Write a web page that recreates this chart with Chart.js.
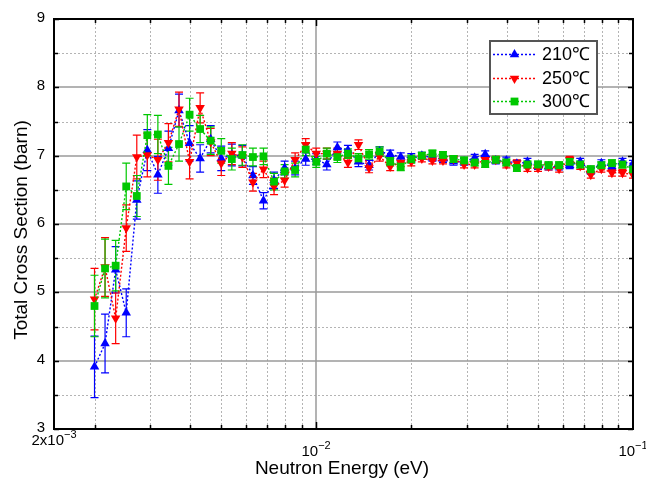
<!DOCTYPE html>
<html>
<head>
<meta charset="utf-8">
<script src="https://cdn.jsdelivr.net/npm/chart.js@4"></script>
<style>
  html, body { margin: 0; padding: 0; background: #fff; }
  #wrap { width: 646px; height: 485px; position: relative; }
</style>
</head>
<body>
<div id="wrap"><canvas id="chart" width="646" height="485"></canvas></div>
<script>
/* ── Data ──────────────────────────────────────────────── */

// neutron energy (eV), shared by all three temperatures
const energy = [
  0.002000, 0.002159, 0.002332, 0.002518, 0.002719, 0.002935, 0.003169, 0.003422,
  0.003695, 0.003990, 0.004308, 0.004651, 0.005022, 0.005423, 0.005855, 0.006322,
  0.006826, 0.007370, 0.007958, 0.008590, 0.009275, 0.010015, 0.010813, 0.011675,
  0.012606, 0.013611, 0.014697, 0.015868, 0.017133, 0.018499, 0.019974, 0.021567,
  0.023287, 0.025143, 0.027148, 0.029313, 0.031650, 0.034174, 0.036898, 0.039840,
  0.043017, 0.046447, 0.050151, 0.054150, 0.058467, 0.063129, 0.068163, 0.073598,
  0.079466, 0.085802, 0.092644, 0.100000,
];

// total cross section (barn)
const xs210 = [
  3.91, 4.25, 5.33, 4.70, 6.35, 7.08, 6.72, 7.11, 7.66, 7.18, 6.96, 7.24, 6.96, 7.01,
  7.00, 6.71, 6.34, 6.64, 6.82, 6.82, 6.95, 6.95, 6.87, 7.12, 7.08, 6.91, 6.86, 7.06,
  7.02, 6.98, 6.97, 7.00, 6.97, 6.95, 6.91, 6.91, 6.97, 7.02, 6.93, 6.93, 6.88, 6.91,
  6.85, 6.84, 6.84, 6.86, 6.91, 6.78, 6.89, 6.84, 6.91, 6.88,
];
const xs250 = [
  4.90, 5.37, 4.62, 5.94, 6.98, 7.01, 6.94, 7.19, 7.68, 6.91, 7.70, 7.20, 6.89, 7.03,
  6.98, 6.61, 6.80, 6.55, 6.64, 6.94, 7.16, 7.03, 7.03, 7.03, 6.90, 7.16, 6.82, 6.99,
  6.84, 6.90, 6.91, 6.96, 6.93, 6.93, 6.95, 6.87, 6.87, 6.94, 6.94, 6.87, 6.89, 6.82,
  6.82, 6.84, 6.81, 6.94, 6.85, 6.72, 6.81, 6.75, 6.75, 6.72,
];
const xs300 = [
  4.80, 5.35, 5.39, 6.55, 6.41, 7.30, 7.31, 6.85, 7.17, 7.60, 7.39, 7.22, 7.07, 6.95,
  7.01, 6.98, 6.99, 6.62, 6.77, 6.79, 7.09, 6.91, 7.03, 6.98, 7.03, 6.96, 7.02, 7.06,
  6.91, 6.84, 6.95, 7.00, 7.03, 7.01, 6.95, 6.93, 6.90, 6.88, 6.94, 6.90, 6.82, 6.87,
  6.87, 6.86, 6.86, 6.91, 6.87, 6.80, 6.86, 6.89, 6.87, 6.80,
];

// one-sigma uncertainties (barn)
const err210 = [
  0.45, 0.43, 0.34, 0.35, 0.28, 0.30, 0.27, 0.25, 0.24, 0.26, 0.20, 0.20, 0.18, 0.16,
  0.15, 0.13, 0.12, 0.12, 0.10, 0.10, 0.09, 0.08, 0.08, 0.08, 0.07, 0.07, 0.07, 0.07,
  0.06, 0.06, 0.06, 0.05, 0.05, 0.05, 0.05, 0.05, 0.05, 0.05, 0.05, 0.05, 0.05, 0.05,
  0.05, 0.05, 0.05, 0.05, 0.05, 0.05, 0.05, 0.05, 0.05, 0.05,
];
const err250 = [
  0.45, 0.43, 0.37, 0.34, 0.32, 0.32, 0.30, 0.28, 0.25, 0.25, 0.22, 0.20, 0.18, 0.16,
  0.15, 0.13, 0.12, 0.12, 0.10, 0.10, 0.09, 0.08, 0.08, 0.08, 0.07, 0.07, 0.07, 0.07,
  0.06, 0.06, 0.06, 0.05, 0.05, 0.05, 0.05, 0.05, 0.05, 0.05, 0.05, 0.05, 0.05, 0.05,
  0.05, 0.05, 0.05, 0.05, 0.05, 0.05, 0.05, 0.05, 0.05, 0.05,
];
const err300 = [
  0.45, 0.43, 0.37, 0.34, 0.30, 0.30, 0.28, 0.27, 0.25, 0.24, 0.20, 0.20, 0.18, 0.16,
  0.15, 0.13, 0.12, 0.12, 0.10, 0.10, 0.09, 0.08, 0.08, 0.08, 0.07, 0.07, 0.07, 0.07,
  0.06, 0.06, 0.06, 0.05, 0.05, 0.05, 0.05, 0.05, 0.05, 0.05, 0.05, 0.05, 0.05, 0.05,
  0.05, 0.05, 0.05, 0.05, 0.05, 0.05, 0.05, 0.05, 0.05, 0.05,
];

const seriesLabels = ["210℃", "250℃", "300℃"];

// axes
const xMin = 0.00149;
const xMax = 0.1;
const yMin = 3;
const yMax = 9;
const xMajorTicks = [0.01];
const xMinorTicks = [
  0.002, 0.003, 0.004, 0.005, 0.006, 0.007, 0.008, 0.009,
  0.02, 0.03, 0.04, 0.05, 0.06, 0.07, 0.08, 0.09,
];
const yTicks = [3, 4, 5, 6, 7, 8, 9];
const yHalfTicks = [3.5, 4.5, 5.5, 6.5, 7.5, 8.5];
const xTickLabels = [
  { value: xMin, base: "2x10", exp: "−3" },
  { value: 0.01, base: "10", exp: "−2" },
  { value: 0.1, base: "10", exp: "−1" },
];

/* ── Styling ───────────────────────────────────────────── */

const BLUE = "#0000ff";
const RED = "#ff0000";
const GREEN = "#00c800";
const NUM_FONT = "'Liberation Sans', Arial, sans-serif";

function points(ys) {
  return energy.map((e, i) => ({ x: e, y: ys[i] }));
}

function makeSet(label, ys, errs, color, style, rotation, order) {
  return {
    label,
    data: points(ys),
    errors: errs,
    borderColor: color,
    backgroundColor: color,
    borderWidth: 1.4,
    borderDash: [2, 2],
    showLine: true,
    pointStyle: style,
    rotation,
    pointRadius: 5.5,
    pointBorderWidth: 0,
    pointBackgroundColor: color,
    clip: 0,
    order,
  };
}

/* ── Custom drawing: grid, error bars, frame, labels, legend ── */

const decor = {
  id: "decor",
  beforeDatasetsDraw(chart) {
    const { ctx, chartArea: a, scales: { x, y } } = chart;
    ctx.save();
    ctx.lineWidth = 1;

    // dotted minor grid
    ctx.strokeStyle = "#b4b4b4";
    ctx.setLineDash([2, 2]);
    for (const v of xMinorTicks) {
      const px = Math.round(x.getPixelForValue(v)) + 0.5;
      ctx.beginPath(); ctx.moveTo(px, a.top); ctx.lineTo(px, a.bottom); ctx.stroke();
    }
    for (const v of yHalfTicks) {
      const py = Math.round(y.getPixelForValue(v)) + 0.5;
      ctx.beginPath(); ctx.moveTo(a.left, py); ctx.lineTo(a.right, py); ctx.stroke();
    }

    // solid major grid
    ctx.setLineDash([]);
    ctx.strokeStyle = "#9a9a9a";
    ctx.lineWidth = 1.5;
    for (const v of xMajorTicks) {
      const px = Math.round(x.getPixelForValue(v));
      ctx.beginPath(); ctx.moveTo(px, a.top); ctx.lineTo(px, a.bottom); ctx.stroke();
    }
    for (const v of yTicks) {
      const py = Math.round(y.getPixelForValue(v));
      ctx.beginPath(); ctx.moveTo(a.left, py); ctx.lineTo(a.right, py); ctx.stroke();
    }

    // error bars
    ctx.beginPath();
    ctx.rect(a.left, a.top, a.right - a.left, a.bottom - a.top);
    ctx.clip();
    ctx.lineWidth = 1.2;
    chart.data.datasets.forEach((ds) => {
      ctx.strokeStyle = ds.borderColor;
      ds.data.forEach((p, i) => {
        const e = ds.errors[i];
        const px = x.getPixelForValue(p.x);
        const top = y.getPixelForValue(p.y + e);
        const bot = y.getPixelForValue(p.y - e);
        ctx.beginPath();
        ctx.moveTo(px, top); ctx.lineTo(px, bot);
        ctx.moveTo(px - 4, top); ctx.lineTo(px + 4, top);
        ctx.moveTo(px - 4, bot); ctx.lineTo(px + 4, bot);
        ctx.stroke();
      });
    });
    ctx.restore();
  },

  afterDraw(chart) {
    const { ctx, chartArea: a, scales: { x, y } } = chart;
    ctx.save();

    // frame
    ctx.strokeStyle = "#000";
    ctx.lineWidth = 2;
    ctx.strokeRect(a.left, a.top, a.right - a.left, a.bottom - a.top);

    // tick marks (inside, all four sides)
    ctx.lineWidth = 1.5;
    ctx.beginPath();
    for (const v of xMinorTicks.concat(xMajorTicks)) {
      const px = Math.round(x.getPixelForValue(v)) + 0.5;
      const len = xMajorTicks.includes(v) ? 7 : 4;
      ctx.moveTo(px, a.bottom); ctx.lineTo(px, a.bottom - len);
      ctx.moveTo(px, a.top); ctx.lineTo(px, a.top + len);
    }
    for (const v of yTicks.concat(yHalfTicks)) {
      const py = Math.round(y.getPixelForValue(v)) + 0.5;
      const len = yTicks.includes(v) ? 5 : 4;
      ctx.moveTo(a.left, py); ctx.lineTo(a.left + len, py);
      ctx.moveTo(a.right, py); ctx.lineTo(a.right - len, py);
    }
    ctx.stroke();

    // y tick labels
    ctx.fillStyle = "#000";
    ctx.font = `15px ${NUM_FONT}`;
    ctx.textAlign = "right";
    ctx.textBaseline = "middle";
    for (const v of yTicks) {
      ctx.fillText(String(v), a.left - 9, y.getPixelForValue(v) - 1);
    }

    // x tick labels with superscript exponents
    ctx.textBaseline = "alphabetic";
    ctx.textAlign = "left";
    xTickLabels.forEach((t, i) => {
      const px = x.getPixelForValue(t.value);
      ctx.font = `15px ${NUM_FONT}`;
      const wb = ctx.measureText(t.base).width;
      ctx.font = `11px ${NUM_FONT}`;
      const we = ctx.measureText(t.exp).width;
      const base = i === 0 ? 445 : 456;
      const x0 = px - (wb + we) / 2;
      ctx.font = `15px ${NUM_FONT}`;
      ctx.fillText(t.base, x0, base);
      ctx.font = `11px ${NUM_FONT}`;
      ctx.fillText(t.exp, x0 + wb, base - 7);
    });

    // axis titles
    ctx.font = `19px ${NUM_FONT}`;
    ctx.textAlign = "center";
    ctx.textBaseline = "middle";
    ctx.fillText("Neutron Energy (eV)", 342, 469);
    ctx.save();
    ctx.translate(22, 230);
    ctx.rotate(-Math.PI / 2);
    ctx.fillText("Total Cross Section (barn)", 0, 0);
    ctx.restore();

    // legend box
    const lx = 490, ly = 41, lw = 107, lh = 73;
    ctx.fillStyle = "#fff";
    ctx.fillRect(lx, ly, lw, lh);
    ctx.strokeStyle = "#555";
    ctx.lineWidth = 2;
    ctx.strokeRect(lx, ly, lw, lh);

    const rows = [54, 77.5, 100.5];
    chart.data.datasets.forEach((ds, i) => {
      const ry = Math.round(rows[i]) + 0.5;
      ctx.strokeStyle = ds.borderColor;
      ctx.lineWidth = 1.4;
      ctx.setLineDash([2, 2]);
      ctx.beginPath(); ctx.moveTo(493, ry); ctx.lineTo(536, ry); ctx.stroke();
      ctx.setLineDash([]);
      ctx.fillStyle = ds.borderColor;
      Chart.helpers.drawPoint(ctx, {
        pointStyle: ds.pointStyle,
        rotation: ds.rotation,
        radius: 5.5,
        borderWidth: 0,
      }, 514.5, ry);
      ctx.fillStyle = "#000";
      ctx.font = `18px ${NUM_FONT}`;
      ctx.textAlign = "left";
      ctx.textBaseline = "middle";
      ctx.fillText(ds.label, 542, ry + 1);
    });

    ctx.restore();
  },
};

/* ── Chart ─────────────────────────────────────────────── */

new Chart(document.getElementById("chart"), {
  type: "scatter",
  data: {
    datasets: [
      makeSet(seriesLabels[0], xs210, err210, BLUE, "triangle", 0, 3),
      makeSet(seriesLabels[1], xs250, err250, RED, "triangle", 180, 2),
      makeSet(seriesLabels[2], xs300, err300, GREEN, "rect", 0, 1),
    ],
  },
  options: {
    responsive: false,
    animation: false,
    events: [],
    layout: { padding: { left: 54, right: 13, top: 19, bottom: 56 } },
    plugins: { legend: { display: false }, tooltip: { enabled: false } },
    scales: {
      x: { type: "logarithmic", min: xMin, max: xMax, display: false },
      y: { type: "linear", min: yMin, max: yMax, display: false },
    },
  },
  plugins: [decor],
});
</script>
</body>
</html>
